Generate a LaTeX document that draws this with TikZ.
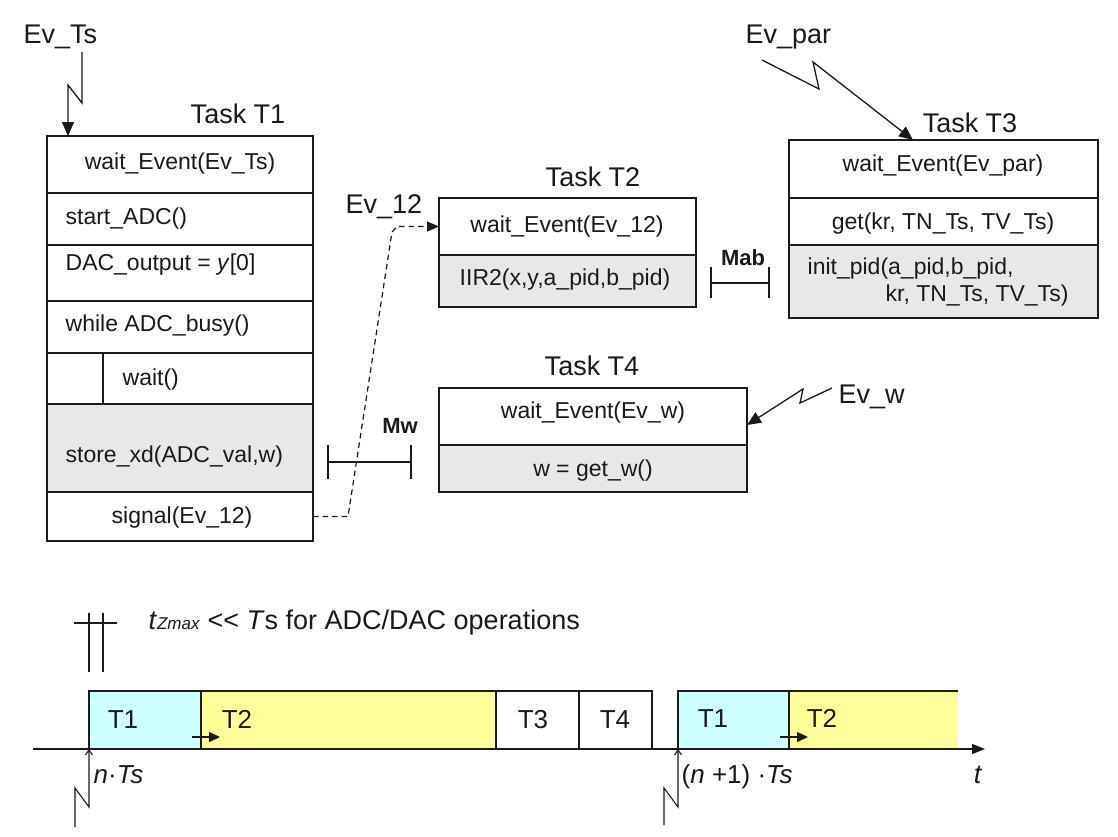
\documentclass[tikz,border=0pt]{standalone}
\usepackage{fontspec}
\setmainfont{Liberation Sans}
\usepackage{graphicx}
\usetikzlibrary{arrows.meta}
\definecolor{ink}{HTML}{1A1A1A}
\definecolor{rowgray}{HTML}{E8E8E8}
\definecolor{tcyan}{HTML}{CCFFFF}
\definecolor{tyellow}{HTML}{FFFF99}
\begin{document}
\begin{tikzpicture}[x=1pt,y=-1pt,line width=1.3pt,
  row/.style={draw=ink,line width=1.3pt,rectangle,inner sep=0pt,outer sep=0pt},
  grayrow/.style={row,fill=rowgray},
  boxtxt/.style={font=\fontsize{23}{27}\selectfont,inner sep=0pt,text height=17pt,text depth=5pt,text=ink},
  lbl/.style={font=\fontsize{27}{32}\selectfont,inner sep=0pt,text=ink,anchor=base},
  boldlbl/.style={font=\fontsize{22}{26}\selectfont\bfseries,inner sep=0pt,text=ink,anchor=base},
  tltxt/.style={font=\fontsize{26}{30}\selectfont,inner sep=0pt,text=ink,anchor=base},
  evarrow/.style={draw=ink,line width=1.3pt,-{Triangle[length=14pt,width=12pt]}},
  thinarrow/.style={draw=ink,line width=1.1pt,-{Straight Barb[length=5pt,width=7pt]}},
  smallarrow/.style={draw=ink,line width=1.3pt,-{Triangle[length=11pt,width=10pt]}},
  slot/.style={draw=ink,line width=1.3pt,rectangle,inner sep=0pt,outer sep=0pt,minimum height=58pt}]
\useasboundingbox (0,0) rectangle (1118,836);
\fill[white] (0,0) rectangle (1118,836);

% ---------------- Task T1 ----------------
\node[row,minimum width=266pt,minimum height=57pt] (t1a) at (180,164.5) {};
\node[row,minimum width=266pt,minimum height=52pt] (t1b) at (180,219) {};
\node[row,minimum width=266pt,minimum height=56pt] (t1c) at (180,273) {};
\node[row,minimum width=266pt,minimum height=52pt] (t1d) at (180,327) {};
\node[row,minimum width=56pt,minimum height=51pt] (t1e0) at (75,378.5) {};
\node[row,minimum width=210pt,minimum height=51pt] (t1e1) at (208,378.5) {};
\node[grayrow,minimum width=266pt,minimum height=88pt] (t1f) at (180,448) {};
\node[row,minimum width=266pt,minimum height=49pt] (t1g) at (180,516.5) {};
\draw[ink,line width=2.6pt] (t1b.south west) -- (t1b.south east);
\draw[ink,line width=2.6pt] (t1f.south west) -- (t1f.south east);

\node[boxtxt] (x1a) at (180,163) {wait\_Event(Ev\_Ts)};
\node[boxtxt,anchor=west] (x1b) at (65,218) {start\_ADC()};
\node[boxtxt,anchor=west] (x1c) at (65,264) {DAC\_output = \textit{y}[0]};
\node[boxtxt,anchor=west] (x1d) at (65,325) {while ADC\_busy()};
\node[boxtxt,anchor=west] (x1e) at (122,379) {wait()};
\node[boxtxt,anchor=west] (x1f) at (65,456) {store\_xd(ADC\_val,w)};
\node[boxtxt] (x1g) at (182,517) {signal(Ev\_12)};
\node[lbl] (lt1) at (238,123) {Task T1};

% ---------------- Task T2 ----------------
\node[row,minimum width=257pt,minimum height=57pt] (t2a) at (567.5,226.5) {};
\node[grayrow,minimum width=257pt,minimum height=52pt] (t2b) at (567.5,281) {};
\node[boxtxt] (x2a) at (567,226) {wait\_Event(Ev\_12)};
\node[boxtxt] (x2b) at (565,279) {IIR2(x,y,a\_pid,b\_pid)};
\node[lbl] (lt2) at (593,186) {Task T2};

% ---------------- Task T3 ----------------
\node[row,minimum width=309pt,minimum height=58pt] (t3a) at (943.5,169) {};
\node[row,minimum width=309pt,minimum height=47pt] (t3b) at (943.5,221.5) {};
\node[grayrow,minimum width=309pt,minimum height=73pt] (t3c) at (943.5,281.5) {};
\node[boxtxt] (x3a) at (943,165) {wait\_Event(Ev\_par)};
\node[boxtxt] (x3b) at (943,223) {get(kr, TN\_Ts, TV\_Ts)};
\node[boxtxt,anchor=west] (x3c) at (807,268) {init\_pid(a\_pid,b\_pid,};
\node[boxtxt,anchor=west] (x3d) at (885,295) {kr, TN\_Ts, TV\_Ts)};
\node[lbl] (lt3) at (970,132) {Task T3};

% ---------------- Task T4 ----------------
\node[row,minimum width=308pt,minimum height=57pt] (t4a) at (593,416.5) {};
\node[grayrow,minimum width=308pt,minimum height=47pt] (t4b) at (593,468.5) {};
\node[boxtxt] (x4a) at (593,412) {wait\_Event(Ev\_w)};
\node[boxtxt] (x4b) at (593,470) {w = get\_w()};
\node[lbl] (lt4) at (592,375) {Task T4};

% ---------------- events ----------------
\node[lbl,anchor=base west] (levts) at (23,43) {Ev\_Ts};
\node[lbl,anchor=base west] (lev12) at (345,213) {Ev\_12};
\node[lbl,anchor=base west] (levpar) at (745,43) {Ev\_par};
\node[lbl,anchor=base west] (levw) at (838,403) {Ev\_w};

\coordinate (ets0) at (82,52);
\coordinate (ets1) at (82,103);
\coordinate (ets2) at (68,85);
\draw[evarrow] (ets0) -- (ets1) -- (ets2) -- (68,85 |- t1a.north);

\coordinate (epr0) at (762,60);
\coordinate (epr1) at (819,89);
\coordinate (epr2) at (813,62);
\draw[evarrow] (epr0) -- (epr1) -- (epr2) -- (913,140);

\coordinate (ew0) at (832,388);
\coordinate (ew1) at (800,403);
\coordinate (ew2) at (803,389);
\draw[evarrow] (ew0) -- (ew1) -- (ew2) -- (t4a.east |- 0,425);

\coordinate (d1) at (348,516.5);
\coordinate (d2) at (392,232);
\coordinate (d3) at (397,226.5);
\draw[ink,line width=1.2pt,dash pattern=on 5.5pt off 4pt,-{Triangle[length=12pt,width=10pt]}]
  (t1g.east) -- (d1) -- (d2) -- (d3) -- (t2a.west);

% ---------------- mutexes ----------------
\node[boldlbl] (lmab) at (743,265) {Mab};
\coordinate (mab1) at (711,283);
\coordinate (mab2) at (769,283);
\draw[ink,line width=1.3pt] (mab1) -- (mab2);
\draw[ink,line width=1.3pt] (711,267) -- (711,298);
\draw[ink,line width=1.3pt] (769,267) -- (769,298);

\node[boldlbl] (lmw) at (400,433) {Mw};
\coordinate (mw1) at (328,462);
\coordinate (mw2) at (411,462);
\draw[ink,line width=1.3pt] (mw1) -- (mw2);
\draw[ink,line width=1.3pt] (328,445) -- (328,479);
\draw[ink,line width=1.3pt] (411,445) -- (411,479);

% ---------------- timeline ----------------
\draw[ink,line width=1.3pt] (89,613) -- (89,672);
\draw[ink,line width=1.3pt] (103,613) -- (103,672);
\draw[ink,line width=1.3pt] (74,623) -- (117,623);
\node[tltxt,anchor=base west,font=\fontsize{27}{32}\selectfont] (ltz) at (148,629)
  {\textit{t}{\fontsize{17}{20}\selectfont\textit{Zmax}} {<}{<} \textit{T}s for ADC/DAC operations};

\node[slot,fill=tcyan,minimum width=112pt] (tb1) at (145,720) {};
\node[slot,fill=tyellow,minimum width=295pt] (tb2) at (348.5,720) {};
\node[slot,fill=white,minimum width=83pt] (tb3) at (537.5,720) {};
\node[slot,fill=white,minimum width=73pt] (tb4) at (615.5,720) {};
\node[slot,fill=tcyan,minimum width=111pt] (tb5) at (733.5,720) {};
\node[slot,draw=none,fill=tyellow,minimum width=169pt] (tb6) at (873.5,720) {};
\draw[ink,line width=1.3pt] (tb6.south west) -- (tb6.north west) -- (tb6.north east);

\node[tltxt] (lb1) at (123,728) {T1};
\node[tltxt] (lb2) at (237,728) {T2};
\node[tltxt] (lb3) at (533,728) {T3};
\node[tltxt] (lb4) at (615,728) {T4};
\node[tltxt] (lb5) at (713,727) {T1};
\node[tltxt] (lb6) at (822,727) {T2};

\coordinate (axs) at (33,749);
\coordinate (axe) at (985,749);
\draw[ink,line width=1.3pt,-{Triangle[length=13pt,width=10pt]}] (axs) -- (axe);
\node[lbl,anchor=base] (lt) at (978,783) {\textit{t}};

\coordinate (sa1) at (192,737);
\coordinate (sa2) at (220,737);
\draw[smallarrow] (sa1) -- (sa2);
\coordinate (sb1) at (780,737);
\coordinate (sb2) at (808,737);
\draw[smallarrow] (sb1) -- (sb2);

\coordinate (ln0) at (75,827);
\coordinate (ln1) at (75,788);
\coordinate (ln2) at (89,807);
\draw[thinarrow] (ln0) -- (ln1) -- (ln2) -- (tb1.south west);
\coordinate (lm0) at (664,825);
\coordinate (lm1) at (664,788);
\coordinate (lm2) at (678,807);
\draw[thinarrow] (lm0) -- (lm1) -- (lm2) -- (tb5.south west);

\node[lbl,anchor=base west,font=\fontsize{26}{30}\selectfont] (lnts) at (93,783) {\textit{n}·\textit{Ts}};
\node[lbl,anchor=base west,font=\fontsize{26}{30}\selectfont] (ln1ts) at (681,783) {(\textit{n} +1) ·\textit{Ts}};
\end{tikzpicture}
\end{document}
